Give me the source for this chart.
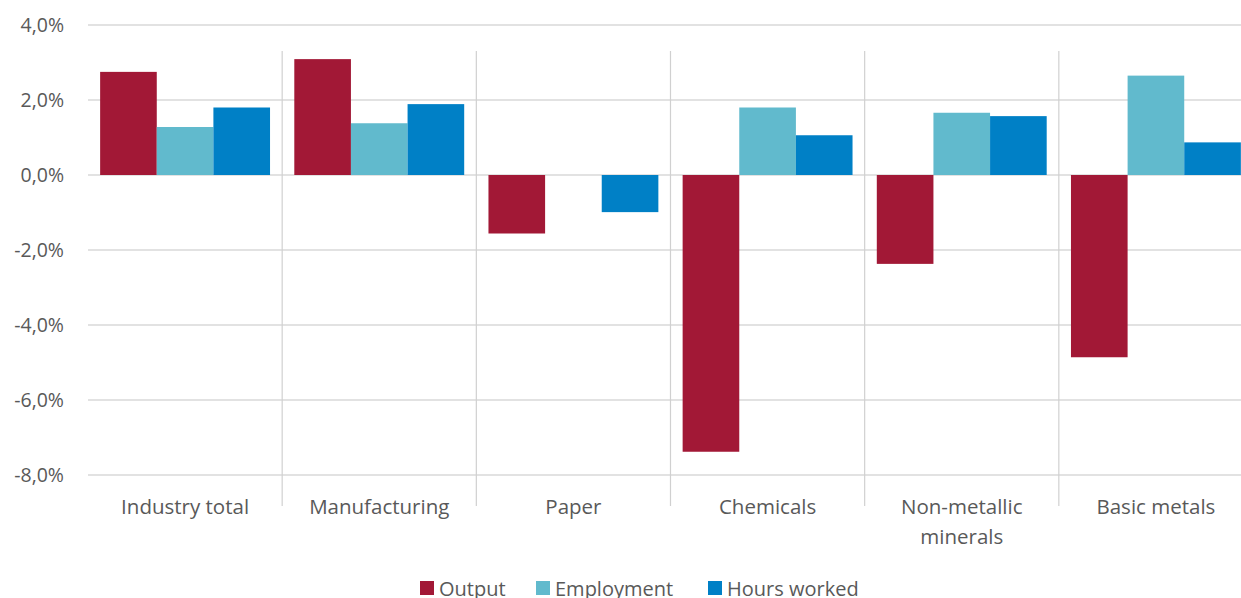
<!DOCTYPE html>
<html>
<head>
<meta charset="utf-8">
<script src="https://cdn.jsdelivr.net/npm/d3@7"></script>
<style>
  html, body { margin: 0; padding: 0; background: #fff; overflow: hidden; }
  text { font-family: 'Open Sans', sans-serif; fill: #595959; }
</style>
</head>
<body>
<div id="chart"></div>
<script>
const categories = ['Industry total', 'Manufacturing', 'Paper', 'Chemicals', 'Non-metallic minerals', 'Basic metals']
const seriesNames = ['Output', 'Employment', 'Hours worked']
const output = [2.75, 3.09, -1.56, -7.38, -2.37, -4.86]
const employment = [1.28, 1.38, 0, 1.8, 1.66, 2.65]
const hoursWorked = [1.8, 1.89, -0.99, 1.06, 1.57, 0.87]
const yTicks = [-8, -6, -4, -2, 0, 2, 4]

const colors = ['#a21836', '#61bacd', '#0080c6']

const width = 1241
const height = 598
const margin = { top: 25, left: 88, bottom: 123 }
// plot is wider than the window, the last group is cut off on the right
const plotRight = 1253

const rows = categories.map((c, i) => ({
  category: c,
  values: [output[i], employment[i], hoursWorked[i]]
}))

const svg = d3
  .select('#chart')
  .append('svg')
  .attr('width', width)
  .attr('height', height)

const x0 = d3
  .scaleBand()
  .domain(categories)
  .range([margin.left, plotRight])
  .paddingInner(0.125)
  .paddingOuter(0.0625)

const x1 = d3
  .scaleBand()
  .domain(d3.range(seriesNames.length))
  .range([0, x0.bandwidth()])

const y = d3
  .scaleLinear()
  .domain([-8, 4])
  .range([height - margin.bottom, margin.top])

// horizontal gridlines
svg
  .append('g')
  .selectAll('line')
  .data(yTicks)
  .enter()
  .append('line')
  .attr('x1', margin.left)
  .attr('x2', width)
  .attr('y1', d => y(d))
  .attr('y2', d => y(d))
  .attr('stroke', '#d9d9d9')
  .attr('stroke-width', 1.3)

// y tick labels
svg
  .append('g')
  .selectAll('text')
  .data(yTicks)
  .enter()
  .append('text')
  .attr('x', 64)
  .attr('y', d => y(d))
  .attr('dy', '0.35em')
  .attr('text-anchor', 'end')
  .style('font-size', '19.5px')
  .text(d => (d < 0 ? '-' : '') + Math.abs(d).toFixed(1).replace('.', ',') + '%')

// category separators
const step = x0.step()
svg
  .append('g')
  .selectAll('line')
  .data(categories.slice(1))
  .enter()
  .append('line')
  .attr('x1', d => x0(d) - (step - x0.bandwidth()) / 2)
  .attr('x2', d => x0(d) - (step - x0.bandwidth()) / 2)
  .attr('y1', 51)
  .attr('y2', 506)
  .attr('stroke', '#d0d0d0')
  .attr('stroke-width', 1.2)

// bars
const groups = svg
  .append('g')
  .selectAll('g')
  .data(rows)
  .enter()
  .append('g')
  .attr('transform', d => 'translate(' + x0(d.category) + ',0)')

groups
  .selectAll('rect')
  .data(d => d.values.map((v, i) => ({ v, i })))
  .enter()
  .append('rect')
  .filter(d => d.v !== 0)
  .attr('x', d => x1(d.i))
  .attr('width', x1.bandwidth())
  .attr('y', d => y(Math.max(0, d.v)))
  .attr('height', d => Math.abs(y(d.v) - y(0)))
  .attr('fill', d => colors[d.i])

// category labels, wrapped like the original
const labelLines = {
  'Non-metallic minerals': ['Non-metallic', 'minerals']
}
const catLabels = svg
  .append('g')
  .selectAll('text')
  .data(categories)
  .enter()
  .append('text')
  .attr('x', d => x0(d) + x0.bandwidth() / 2)
  .attr('y', 514)
  .attr('text-anchor', 'middle')
  .style('font-size', '20.5px')

catLabels
  .selectAll('tspan')
  .data(d => labelLines[d] || [d])
  .enter()
  .append('tspan')
  .attr('x', function() {
    return this.parentNode.getAttribute('x')
  })
  .attr('dy', (d, i) => (i === 0 ? 0 : 30))
  .text(d => d)

// legend
const legendX = [420, 536, 708]
const legend = svg
  .append('g')
  .selectAll('g')
  .data(seriesNames)
  .enter()
  .append('g')
  .attr('transform', (d, i) => 'translate(' + legendX[i] + ',0)')

legend
  .append('rect')
  .attr('x', 0)
  .attr('y', 581)
  .attr('width', 14)
  .attr('height', 14)
  .attr('fill', (d, i) => colors[i])

legend
  .append('text')
  .attr('x', 19)
  .attr('y', 596)
  .style('font-size', '20px')
  .text(d => d)
</script>
</body>
</html>
